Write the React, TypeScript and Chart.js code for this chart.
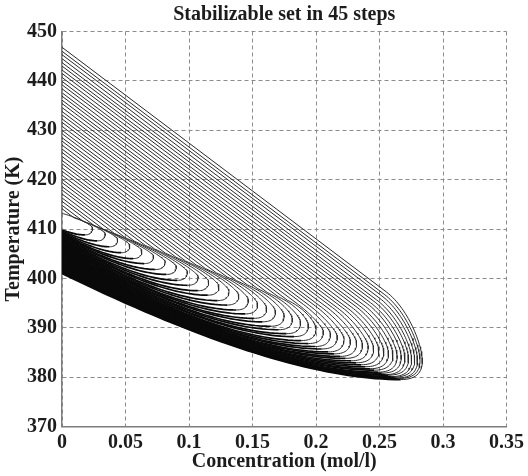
import React, { useEffect, useRef } from "react";
import { Chart, registerables } from "chart.js";

Chart.register(...registerables);

const chartTitle = "Stabilizable set in 45 steps";
const xAxisTitle = "Concentration (mol/l)";
const yAxisTitle = "Temperature (K)";
const xTickValues = [0, 0.05, 0.1, 0.15, 0.2, 0.25, 0.3, 0.35];
const yTickValues = [370, 380, 390, 400, 410, 420, 430, 440, 450];

// One entry per stabilizable set, innermost (1 step) to outermost (45 steps).
// Temperature where the upper edge meets the axis c = 0 (K)
const upperAtZero = [
  413.3, 414.1, 414.8, 415.6, 416.3, 417.1, 417.9, 418.6, 419.4, 420.1,
  420.9, 421.7, 422.4, 423.2, 423.9, 424.7, 425.5, 426.2, 427.0, 427.8,
  428.5, 429.3, 430.0, 430.8, 431.6, 432.3, 433.1, 433.8, 434.6, 435.4,
  436.1, 436.9, 437.6, 438.4, 439.2, 439.9, 440.7, 441.5, 442.2, 443.0,
  443.7, 444.5, 445.3, 446.0, 446.8,
];
// Temperature where the lower edge meets the axis c = 0 (K)
const lowerAtZero = [
  409.8, 409.6, 409.4, 409.2, 409.0, 408.8, 408.6, 408.4, 408.2, 408.0,
  407.8, 407.6, 407.4, 407.2, 407.0, 406.8, 406.6, 406.4, 406.2, 406.0,
  405.8, 405.6, 405.4, 405.2, 405.0, 404.8, 404.6, 404.4, 404.2, 404.0,
  403.8, 403.6, 403.4, 403.2, 403.0, 402.8, 402.6, 402.4, 402.2, 402.0,
  401.8, 401.6, 401.4, 401.2, 401.0,
];
// Right-most point of each set (mol/l, K)
const tipX = [
  0.0240, 0.0340, 0.0438, 0.0534, 0.0629, 0.0721, 0.0812, 0.0900, 0.0987, 0.1072,
  0.1155, 0.1236, 0.1315, 0.1392, 0.1467, 0.1540, 0.1611, 0.1681, 0.1749, 0.1814,
  0.1878, 0.1940, 0.2000, 0.2058, 0.2114, 0.2168, 0.2221, 0.2271, 0.2320, 0.2366,
  0.2411, 0.2454, 0.2495, 0.2534, 0.2571, 0.2606, 0.2639, 0.2671, 0.2700, 0.2728,
  0.2753, 0.2777, 0.2799, 0.2819, 0.2837,
];
const tipY = [
  410.2, 409.0, 407.9, 406.7, 405.6, 404.5, 403.4, 402.4, 401.3, 400.3,
  399.3, 398.4, 397.4, 396.5, 395.6, 394.7, 393.9, 393.2, 392.4, 391.7,
  391.0, 390.4, 389.7, 389.2, 388.7, 388.2, 387.7, 387.3, 386.9, 386.5,
  386.1, 385.7, 385.4, 385.1, 384.8, 384.5, 384.2, 384.0, 383.85, 383.7,
  383.55, 383.5, 383.35, 383.3, 383.2,
];
// Lowest point of each set (mol/l, K)
const bottomX = [
  0.0180, 0.0277, 0.0373, 0.0466, 0.0559, 0.0648, 0.0737, 0.0822, 0.0907, 0.0989,
  0.1070, 0.1148, 0.1225, 0.1299, 0.1372, 0.1442, 0.1511, 0.1578, 0.1644, 0.1706,
  0.1768, 0.1827, 0.1885, 0.1940, 0.1994, 0.2045, 0.2096, 0.2143, 0.2190, 0.2233,
  0.2276, 0.2316, 0.2355, 0.2391, 0.2426, 0.2458, 0.2489, 0.2518, 0.2545, 0.2570,
  0.2593, 0.2614, 0.2634, 0.2651, 0.2667,
];
const bottomY = [
  408.8, 407.6, 406.4, 405.2, 404.0, 403.0, 401.8, 400.8, 399.6, 398.6,
  397.5, 396.6, 395.5, 394.6, 393.6, 392.8, 391.9, 391.2, 390.3, 389.6,
  388.8, 388.2, 387.4, 386.8, 386.2, 385.7, 385.1, 384.7, 384.2, 383.8,
  383.3, 382.9, 382.5, 382.1, 381.7, 381.4, 381.0, 380.8, 380.5, 380.4,
  380.1, 380.0, 379.8, 379.7, 379.5,
];

// Edge slopes (K per mol/l) and the line along which
// the upper edges bend (the dark diagonal streak): T = 413.2 - 99.4 c
const UPPER_SLOPE = -194;
const SHOULDER_SLOPE = -115;
const BEND_AT_ZERO = 413.2;
const BEND_SLOPE = -99.4;

type Pt = { x: number; y: number };

function addQuad(p0: Pt, c: Pt, p1: Pt, n: number, out: Pt[]) {
  for (let k = 1; k <= n; k++) {
    const t = k / n;
    const u = 1 - t;
    out.push({
      x: u * u * p0.x + 2 * u * t * c.x + t * t * p1.x,
      y: u * u * p0.y + 2 * u * t * c.y + t * t * p1.y,
    });
  }
}

function addCubic(p0: Pt, c1: Pt, c2: Pt, p1: Pt, n: number, out: Pt[]) {
  for (let k = 1; k <= n; k++) {
    const t = k / n;
    const u = 1 - t;
    const a = u * u * u, b = 3 * u * u * t, c = 3 * u * t * t, d = t * t * t;
    out.push({
      x: a * p0.x + b * c1.x + c * c2.x + d * p1.x,
      y: a * p0.y + b * c1.y + c * c2.y + d * p1.y,
    });
  }
}

// Upper edge and rounded tip of set i, from the axis down to its lowest point
function upperPart(i: number): Pt[] {
  const U = upperAtZero[i];
  const R = { x: tipX[i], y: tipY[i] };
  const B = { x: bottomX[i], y: bottomY[i] };
  const limit = R.x * 0.9;
  let xs = (U - BEND_AT_ZERO) / (BEND_SLOPE - UPPER_SLOPE);
  let K: Pt;
  let S: Pt;
  if (xs > limit) {
    xs = limit;
    S = { x: xs, y: U + UPPER_SLOPE * xs };
    K = { x: R.x, y: S.y + UPPER_SLOPE * (R.x - xs) };
  } else {
    xs = Math.max(0, xs);
    S = { x: xs, y: U + UPPER_SLOPE * xs };
    K = { x: R.x, y: S.y + SHOULDER_SLOPE * (R.x - xs) };
  }
  if (K.y < R.y + 1.2) K = { x: R.x, y: R.y + 1.2 };
  const pts: Pt[] = [{ x: 0, y: U }, S];
  addCubic(
    S,
    { x: S.x + 0.6 * (K.x - S.x), y: S.y + 0.6 * (K.y - S.y) },
    { x: R.x, y: R.y + 0.4 * (K.y - R.y) },
    R,
    30,
    pts
  );
  addQuad(R, { x: R.x, y: B.y }, B, 14, pts);
  return pts;
}

// Lower edge of set i, from its lowest point back to the axis
function lowerPart(i: number): Pt[] {
  const B = { x: bottomX[i], y: bottomY[i] };
  const pts: Pt[] = [B];
  addQuad(B, { x: 0.64 * B.x, y: B.y }, { x: 0, y: lowerAtZero[i] }, 40, pts);
  return pts;
}

const textColor = "#1c1c1c";
const serif = "'Liberation Serif', 'Times New Roman', serif";

export default function App() {
  const canvasRef = useRef<HTMLCanvasElement | null>(null);

  useEffect(() => {
    document.body.style.margin = "0";
    const canvas = canvasRef.current;
    if (!canvas) return;
    const datasets: any[] = [];
    upperAtZero.forEach((_, i) => {
      datasets.push({
        label: `Set ${i + 1} upper`,
        data: upperPart(i),
        showLine: true,
        borderColor: "#2a2a2a",
        borderWidth: 1,
        pointRadius: 0,
        pointHoverRadius: 0,
        fill: false,
        tension: 0,
      });
      datasets.push({
        label: `Set ${i + 1} lower`,
        data: lowerPart(i),
        showLine: true,
        borderColor: "#0a0a0a",
        borderWidth: 1.7,
        pointRadius: 0,
        pointHoverRadius: 0,
        fill: false,
        tension: 0,
      });
    });

    const tickFont = { family: serif, size: 20, weight: "bold" as const };
    const labelFont = { family: serif, size: 20, weight: "bold" as const };
    const chart = new Chart(canvas, {
      type: "scatter",
      data: { datasets },
      options: {
        responsive: false,
        animation: false,
        events: [],
        layout: { padding: { left: 0, right: 18, top: 0, bottom: 0 } },
        plugins: {
          legend: { display: false },
          tooltip: { enabled: false },
          title: {
            display: true,
            fullSize: false,
            text: chartTitle,
            color: textColor,
            font: labelFont,
            padding: { top: 3, bottom: 4.5 },
          },
        },
        scales: {
          x: {
            type: "linear",
            min: 0,
            max: 0.35,
            afterBuildTicks: (s: any) => {
              s.ticks = xTickValues.map((v) => ({ value: v }));
            },
            afterFit: (s: any) => {
              s.height = 49.5;
            },
            ticks: {
              autoSkip: false,
              maxRotation: 0,
              padding: 4,
              color: textColor,
              font: tickFont,
              callback: (v: any) => String(v),
            },
            grid: { color: "#8c8c8c", lineWidth: 1, drawTicks: false },
            border: { display: true, color: "#7d7d7d", width: 1.5, dash: [4, 3] },
            title: {
              display: true,
              text: xAxisTitle,
              color: textColor,
              font: labelFont,
              padding: { top: 0, bottom: 2 },
            },
          },
          y: {
            type: "linear",
            min: 370,
            max: 450,
            afterBuildTicks: (s: any) => {
              s.ticks = yTickValues.map((v) => ({ value: v }));
            },
            afterFit: (s: any) => {
              s.width = 62;
            },
            ticks: {
              autoSkip: false,
              padding: 5,
              color: textColor,
              font: tickFont,
              callback: (v: any) => String(v),
            },
            grid: { color: "#8c8c8c", lineWidth: 1, drawTicks: false },
            border: { display: true, color: "#7d7d7d", width: 1.5, dash: [4, 3] },
            title: {
              display: true,
              text: yAxisTitle,
              color: textColor,
              font: labelFont,
              padding: { top: 2, bottom: 0 },
            },
          },
        },
      },
    } as any);
    return () => chart.destroy();
  }, []);

  return (
    <div style={{ width: 528, height: 476, background: "#fff" }}>
      <canvas ref={canvasRef} width={528} height={476} style={{ display: "block" }} />
    </div>
  );
}
